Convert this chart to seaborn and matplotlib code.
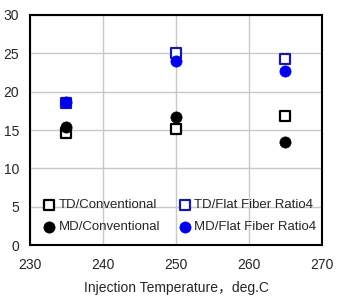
import matplotlib
matplotlib.use("Agg")
import matplotlib.pyplot as plt
import seaborn as sns
import pandas as pd

temps = [235, 250, 265]
td_conv = [14.6, 15.1, 16.8]
md_conv = [15.4, 16.7, 13.5]
td_flat = [18.5, 25.0, 24.2]
md_flat = [18.6, 24.0, 22.7]
series_names = ["TD/Conventional", "TD/Flat Fiber Ratio4", "MD/Conventional", "MD/Flat Fiber Ratio4"]

sns.set_theme(style="white")
plt.rcParams['font.family'] = ['Liberation Sans', 'Noto Sans CJK JP', 'DejaVu Sans']

rows = []
for name, vals in zip(series_names, [td_conv, td_flat, md_conv, md_flat]):
    for t, v in zip(temps, vals):
        rows.append({"temp": t, "value": v, "series": name})
df = pd.DataFrame(rows)

fig = plt.figure(figsize=(3.41, 3.0), dpi=100)
ax = fig.add_axes([0.088, 0.183, 0.856, 0.767])

styles = {
    "TD/Conventional": dict(marker="s", facecolor="white", edgecolor="black", s=55, lw=1.6),
    "TD/Flat Fiber Ratio4": dict(marker="s", facecolor="white", edgecolor="#1a1aa0", s=55, lw=1.6),
    "MD/Conventional": dict(marker="o", facecolor="black", edgecolor="black", s=65, lw=0.5),
    "MD/Flat Fiber Ratio4": dict(marker="o", facecolor="#0000ee", edgecolor="#0000ee", s=65, lw=0.5),
}
order = ["TD/Conventional", "MD/Conventional", "TD/Flat Fiber Ratio4", "MD/Flat Fiber Ratio4"]
for name in order:
    st = styles[name]
    sub = df[df.series == name]
    sns.scatterplot(data=sub, x="temp", y="value", ax=ax, marker=st["marker"],
                    facecolor=st["facecolor"], edgecolor=st["edgecolor"], s=st["s"],
                    linewidth=st["lw"], label=name, zorder=3)

ax.set_xlim(230, 270)
ax.set_ylim(0, 30)
ax.set_xticks([230, 240, 250, 260, 270])
ax.set_yticks([0, 5, 10, 15, 20, 25, 30])
ax.grid(True, color="#c8c8c8", lw=1)
ax.set_axisbelow(True)
for sp in ax.spines.values():
    sp.set_color("black")
    sp.set_linewidth(1.5)
ax.tick_params(axis="y", labelsize=10, length=0, pad=8)
ax.tick_params(axis="x", labelsize=10, length=0, pad=9)
ax.set_xlabel("Injection Temperature，deg.C", fontsize=10, labelpad=7)
ax.set_ylabel("")

handles, labels = ax.get_legend_handles_labels()
hmap = dict(zip(labels, handles))
leg_order = ["TD/Conventional", "MD/Conventional", "TD/Flat Fiber Ratio4", "MD/Flat Fiber Ratio4"]
ax.legend([hmap[l] for l in leg_order], leg_order, ncol=2, loc="lower center",
          bbox_to_anchor=(0.51, 0.0), frameon=False, fontsize=9.5,
          handletextpad=0.1, columnspacing=1.3, labelspacing=0.75, handlelength=1.2,
          borderaxespad=0.5)

fig.savefig("out.png", dpi=100)
